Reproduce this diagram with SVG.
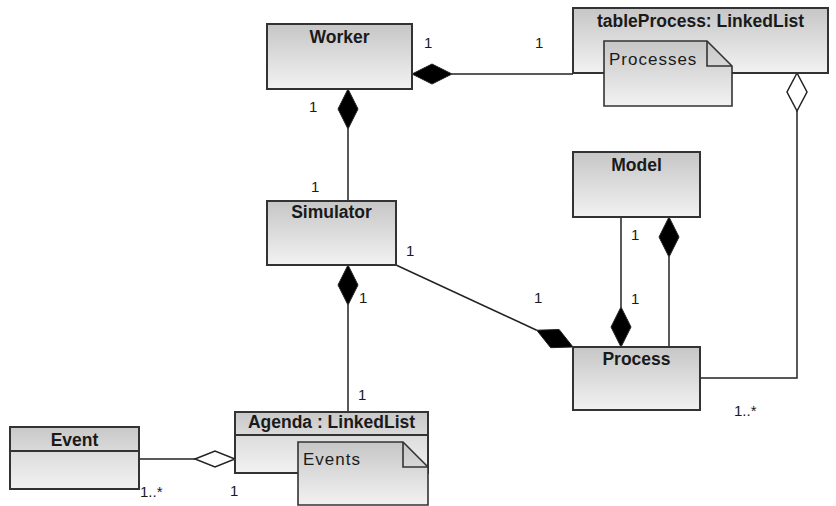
<svg xmlns="http://www.w3.org/2000/svg" width="836" height="506" viewBox="0 0 836 506">
<defs>
<linearGradient id="g" x1="0" y1="0" x2="0" y2="1">
<stop offset="0" stop-color="#c6c6c6"/>
<stop offset="1" stop-color="#f2f2f2"/>
</linearGradient>
<linearGradient id="gh" x1="0" y1="0" x2="0" y2="1">
<stop offset="0" stop-color="#c8c8c8"/>
<stop offset="1" stop-color="#dadada"/>
</linearGradient>
<linearGradient id="gb" x1="0" y1="0" x2="0" y2="1">
<stop offset="0" stop-color="#dcdcdc"/>
<stop offset="1" stop-color="#f2f2f2"/>
</linearGradient>
<style>
.box{fill:url(#g);stroke:#333;stroke-width:2}
.hd{fill:url(#gh);stroke:#333;stroke-width:2}
.bd{fill:url(#gb);stroke:#333;stroke-width:2}
.note{fill:url(#g);stroke:#333;stroke-width:1.6}
.fold{fill:none;stroke:#333;stroke-width:1.6}
.t{font-family:"Liberation Sans",Arial,sans-serif;font-weight:bold;font-size:17.5px;fill:#1a1a1a;text-anchor:middle}
.n{font-family:"Liberation Sans",Arial,sans-serif;font-size:17px;letter-spacing:1px;fill:#1a1a1a}
.m{font-family:"Liberation Sans",Arial,sans-serif;font-size:15px;fill:#1a1a1a}
.ln{fill:none;stroke:#222;stroke-width:1.5}
.fd{fill:#000;stroke:#222;stroke-width:1}
.hdm{fill:#fff;stroke:#222;stroke-width:1.5}
</style>
</defs>
<rect width="836" height="506" fill="#fff"/>

<g id="connectors">
<polyline class="ln" points="452,74 573,74"/>
<polygon class="fd" points="412,74 432,64 452,74 432,84"/>
<line class="ln" x1="348" y1="129" x2="348" y2="201"/>
<polygon class="fd" points="348,89 338,109 348,129 358,109"/>
<polyline class="ln" points="797,111 797,378 700,378"/>
<polygon class="hdm" points="797,73 787,92 797,111 807,92"/>
<line class="ln" x1="621" y1="217" x2="621" y2="307"/>
<polygon class="fd" points="621,307 611,327 621,347 631,327"/>
<line class="ln" x1="669" y1="257" x2="669" y2="347"/>
<polygon class="fd" points="669,217 659,237 669,257 679,237"/>
<line class="ln" x1="348" y1="305" x2="348" y2="412"/>
<polygon class="fd" points="348,265 338,285 348,305 358,285"/>
<line class="ln" x1="396" y1="265" x2="536.7" y2="330.2"/>
<polygon class="fd" points="536.7,330.2 559.1,329.5 573,347 550.7,347.7"/>
<line class="ln" x1="139" y1="459" x2="195" y2="459"/>
<polygon class="hdm" points="195,459 215,451 235,459 215,467"/>
</g>

<g id="worker">
<rect class="box" x="267" y="24" width="145" height="65"/>
<text class="t" x="339.5" y="43">Worker</text>
</g>

<g id="tableProcess">
<rect class="box" x="573" y="8" width="255" height="65"/>
<text class="t" x="700.5" y="27">tableProcess: LinkedList</text>
<polygon class="note" points="604,41 707,41 732,66 732,106 604,106"/>
<polyline class="fold" points="707,41 707,66 732,66"/>
<text class="n" x="609" y="65">Processes</text>
</g>

<g id="model">
<rect class="box" x="573" y="152" width="127" height="65"/>
<text class="t" x="636.5" y="171">Model</text>
</g>

<g id="simulator">
<rect class="box" x="267" y="201" width="129" height="64"/>
<text class="t" x="331.5" y="218">Simulator</text>
</g>

<g id="process">
<rect class="box" x="573" y="347" width="127" height="63"/>
<text class="t" x="636.5" y="365">Process</text>
</g>

<g id="agenda">
<rect class="hd" x="235" y="412" width="193" height="23"/>
<rect class="bd" x="235" y="435" width="193" height="38"/>
<text class="t" x="331.5" y="428">Agenda : LinkedList</text>
<polygon class="note" points="298,442 403,442 428,467 428,505 298,505"/>
<polyline class="fold" points="403,442 403,467 428,467"/>
<text class="n" x="303" y="465">Events</text>
</g>

<g id="event">
<rect class="hd" x="10" y="427" width="129" height="24"/>
<rect class="bd" x="10" y="451" width="129" height="38"/>
<text class="t" x="74.5" y="446">Event</text>
</g>

<g id="labels">
<text class="m" x="424" y="48">1</text>
<text class="m" x="535" y="48">1</text>
<text class="m" x="309" y="112">1</text>
<text class="m" x="311" y="192">1</text>
<text class="m" x="406" y="256">1</text>
<text class="m" x="359" y="303">1</text>
<text class="m" x="534" y="303">1</text>
<text class="m" x="631" y="240">1</text>
<text class="m" x="631" y="304">1</text>
<text class="m" x="358" y="400">1</text>
<text class="m" x="734" y="416">1..*</text>
<text class="m" x="140" y="497">1..*</text>
<text class="m" x="230" y="496">1</text>
</g>
</svg>
